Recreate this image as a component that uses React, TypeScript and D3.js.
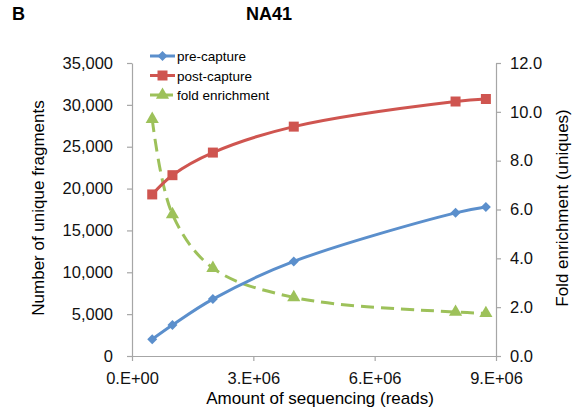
import { useEffect, useRef } from "react";
import * as d3 from "d3";

// reads (x values)
const reads = [0.5e6, 1.0e6, 2.0e6, 4.0e6, 8.0e6, 8.75e6];
const preCapture = [2000, 3700, 6800, 11300, 17100, 17800];
const postCapture = [19300, 21600, 24300, 27400, 30400, 30700];
const foldEnrichment = [9.7, 5.8, 3.6, 2.4, 1.8, 1.75];

const xTicks = [0, 3e6, 6e6, 9e6];
const leftTicks = [0, 5000, 10000, 15000, 20000, 25000, 30000, 35000];
const rightTicks = [0, 2, 4, 6, 8, 10, 12];

const BLUE = "#5B8FCC";
const RED = "#CF5550";
const GREEN = "#9DC15A";

function App() {
  const svgRef = useRef<SVGSVGElement>(null);

  useEffect(() => {
    const width = 582;
    const height = 418;
    const m = { left: 132, right: 496, top: 63, bottom: 356 };
    const font = "'Liberation Sans', Arial, sans-serif";

    const svg = d3.select(svgRef.current);
    svg.selectAll("*").remove();
    svg.attr("width", width).attr("height", height).style("font-family", font);

    const x = d3.scaleLinear().domain([0, 9e6]).range([m.left, m.right]);
    const yL = d3.scaleLinear().domain([0, 35000]).range([m.bottom, m.top]);
    const yR = d3.scaleLinear().domain([0, 12]).range([m.bottom, m.top]);

    // panel letter and title
    svg.append("text").attr("x", 12).attr("y", 20).text("B")
      .attr("font-weight", "bold").attr("font-size", 18);
    svg.append("text").attr("x", 269).attr("y", 20).text("NA41")
      .attr("text-anchor", "middle").attr("font-weight", "bold").attr("font-size", 18);

    const styleAxis = (g: any) => {
      g.select(".domain").attr("stroke", "#a6a6a6").attr("stroke-width", 1.2);
      g.selectAll(".tick line").attr("stroke", "#a6a6a6").attr("stroke-width", 1.2);
      g.selectAll(".tick text").attr("fill", "#111").attr("font-size", 16.5).attr("font-family", font);
    };

    svg.append("g").attr("transform", `translate(0,${m.bottom})`)
      .call(d3.axisBottom(x).tickValues(xTicks).tickSize(5).tickSizeOuter(0)
        .tickFormat((d: any) => {
          const v = +d;
          const e = v === 0 ? 0 : Math.floor(Math.log10(v));
          const mant = v === 0 ? 0 : v / Math.pow(10, e);
          return `${mant}.E+${String(e).padStart(2, "0")}`;
        }))
      .call(styleAxis)
      .call((g: any) => g.selectAll(".tick text").attr("y", 12).attr("dy", "0.95em"));

    svg.append("g").attr("transform", `translate(${m.left},0)`)
      .call(d3.axisLeft(yL).tickValues(leftTicks).tickSize(5).tickSizeOuter(0)
        .tickFormat(d3.format(",")))
      .call(styleAxis)
      .call((g: any) => g.selectAll(".tick text").attr("x", -19));

    svg.append("g").attr("transform", `translate(${m.right},0)`)
      .call(d3.axisRight(yR).tickValues(rightTicks).tickSize(5).tickSizeOuter(0)
        .tickFormat(d3.format(".1f")))
      .call(styleAxis)
      .call((g: any) => g.selectAll(".tick text").attr("x", 14));

    // axis titles
    svg.append("text").attr("x", 320).attr("y", 404).attr("text-anchor", "middle")
      .attr("font-size", 17).text("Amount of sequencing (reads)");
    svg.append("text").attr("transform", "translate(44,208) rotate(-90)")
      .attr("text-anchor", "middle").attr("font-size", 17).text("Number of unique fragments");
    svg.append("text").attr("transform", "translate(568,208) rotate(-90)")
      .attr("text-anchor", "middle").attr("font-size", 17).text("Fold enrichment (uniques)");

    const curve = d3.curveCatmullRom.alpha(0.5);
    const lineL = d3.line<number>().x((_, i) => x(reads[i])).y((d) => yL(d)).curve(curve);
    const lineR = d3.line<number>().x((_, i) => x(reads[i])).y((d) => yR(d)).curve(curve);

    svg.append("path").attr("d", lineR(foldEnrichment)).attr("fill", "none")
      .attr("stroke", GREEN).attr("stroke-width", 3).attr("stroke-dasharray", "13,7");
    svg.append("path").attr("d", lineL(preCapture)).attr("fill", "none")
      .attr("stroke", BLUE).attr("stroke-width", 3);
    svg.append("path").attr("d", lineL(postCapture)).attr("fill", "none")
      .attr("stroke", RED).attr("stroke-width", 3);

    const diamond = d3.symbol().type(d3.symbolSquare).size(50);
    const square = d3.symbol().type(d3.symbolSquare).size(100);
    const triangle = d3.symbol().type(d3.symbolTriangle).size(75);

    svg.append("g").selectAll("path").data(foldEnrichment).join("path")
      .attr("d", triangle as any).attr("fill", GREEN)
      .attr("transform", (d, i) => `translate(${x(reads[i])},${yR(d)})`);
    svg.append("g").selectAll("path").data(preCapture).join("path")
      .attr("d", diamond as any).attr("fill", BLUE)
      .attr("transform", (d, i) => `translate(${x(reads[i])},${yL(d)}) rotate(45)`);
    svg.append("g").selectAll("path").data(postCapture).join("path")
      .attr("d", square as any).attr("fill", RED)
      .attr("transform", (d, i) => `translate(${x(reads[i])},${yL(d)})`);

    // legend
    const legend = [
      { name: "pre-capture", color: BLUE, sym: diamond, rot: 45, dash: null },
      { name: "post-capture", color: RED, sym: square, rot: 0, dash: null },
      { name: "fold enrichment", color: GREEN, sym: triangle, rot: 0, dash: "9,5" },
    ];
    const lg = svg.append("g");
    legend.forEach((d, i) => {
      const yy = 56 + i * 19.5;
      lg.append("line").attr("x1", 150).attr("x2", 175).attr("y1", yy).attr("y2", yy)
        .attr("stroke", d.color).attr("stroke-width", 3)
        .attr("stroke-dasharray", d.dash);
      lg.append("path").attr("d", d.sym as any).attr("fill", d.color)
        .attr("transform", `translate(162.5,${yy}) rotate(${d.rot})`);
      lg.append("text").attr("x", 177).attr("y", yy + 5).attr("font-size", 13.5)
        .text(d.name);
    });
  }, []);

  return (
    <svg ref={svgRef} style={{ position: "absolute", left: 0, top: 0, display: "block" }}></svg>
  );
}

export default App;
